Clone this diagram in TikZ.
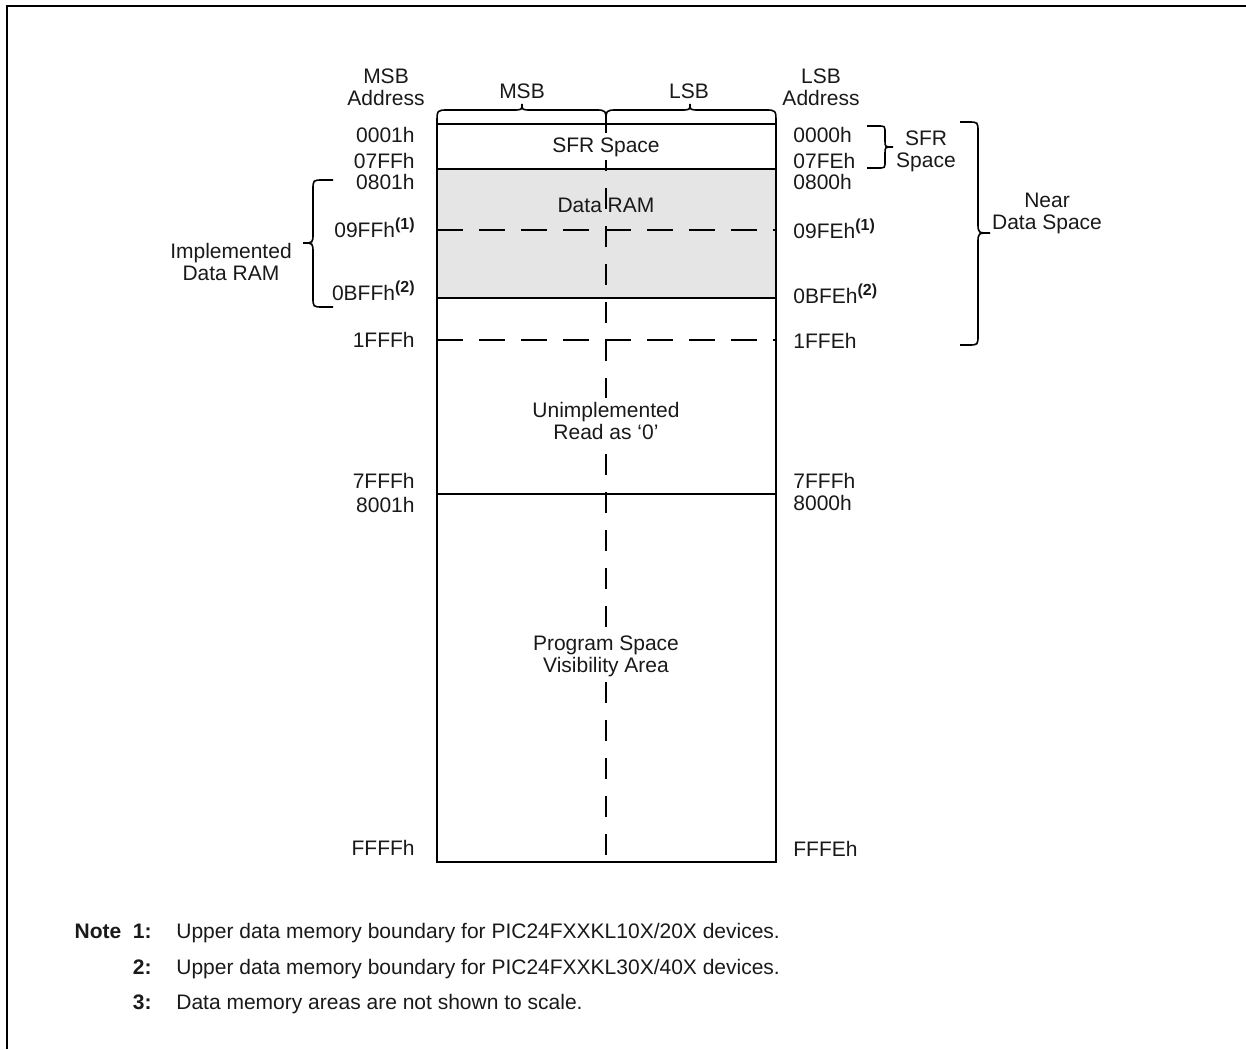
\documentclass[tikz,border=0pt]{standalone}
\usepackage{fontspec}
\setmainfont{Liberation Sans}
\newcommand\supmark[1]{\raisebox{4pt}{\fontsize{8}{8}\selectfont\bfseries(#1)}}
\begin{document}
\begin{tikzpicture}[x=0.5pt,y=-0.5pt,
  every node/.style={font=\fontsize{10.5}{11}\selectfont, inner sep=0pt, text=black!90},
  boxline/.style={line width=1pt},
  hdash/.style={line width=1pt, dash pattern=on 13pt off 8pt},
  vdash/.style={line width=1pt, dash pattern=on 10.5pt off 8.5pt, dash phase=6pt},
  brc/.style={line width=0.8pt},
  lbl/.style={anchor=base east},
  rlbl/.style={anchor=base west},
  blk/.style={align=center},
  cover/.style={align=center, fill=white, inner sep=2pt},
  notenum/.style={anchor=base east, font=\fontsize{10.5}{11}\selectfont\bfseries},
  notetext/.style={anchor=base west},
]
\useasboundingbox (0,0) rectangle (1246,1049);
% frame
\draw[line width=1.1pt] (7,1049) -- (7,6) -- (1246,6);

% memory map
\fill[gray!20] (437,169) rectangle (776,298);
\draw[hdash] (437,230) -- (776,230);
\draw[hdash] (437,340) -- (776,340);
\draw[vdash] (606,124) -- (606,862);
\draw[boxline] (437,124) rectangle (776,862);
\draw[boxline] (437,169) -- (776,169);
\draw[boxline] (437,298) -- (776,298);
\draw[boxline] (437,494) -- (776,494);

% top braces
\draw[brc] (437,123) .. controls (437,110) .. (448,110) -- (512,110) .. controls (522,110) .. (522,104) .. controls (522,110) .. (532,110) -- (595,110) .. controls (606,110) .. (606,123);
\draw[brc] (606,123) .. controls (606,110) .. (617,110) -- (680,110) .. controls (690,110) .. (690,104) .. controls (690,110) .. (700,110) -- (765,110) .. controls (776,110) .. (776,123);
% SFR brace
\draw[brc] (867,126) -- (878,126) .. controls (885,126) .. (885,133) -- (885,141) .. controls (885,147) .. (893,147) .. controls (885,147) .. (885,153) -- (885,161) .. controls (885,168) .. (878,168) -- (867,168);
% Near data space brace
\draw[brc] (960,122) -- (968,122) .. controls (978,122) .. (978,132) -- (978,223) .. controls (978,233) .. (990,233) .. controls (978,233) .. (978,243) -- (978,335) .. controls (978,345) .. (968,345) -- (960,345);
% Implemented data RAM brace
\draw[brc] (333,180) -- (323,180) .. controls (313,180) .. (313,190) -- (313,233) .. controls (313,243) .. (303,243) .. controls (313,243) .. (313,253) -- (313,297) .. controls (313,307) .. (323,307) -- (333,307);

% headings
\node[blk] (msbaddr) at (386,87) {MSB\\Address};
\node[blk] (lsbaddr) at (821,87) {LSB\\Address};
\node[anchor=base] (msb) at (522,98) {MSB};
\node[anchor=base] (lsb) at (689,98) {LSB};

% inner texts
\node[anchor=base, fill=white, inner sep=2pt] (sfr) at (606,152) {SFR Space};
\node[anchor=base] (dram) at (606,212) {Data RAM};
\node[cover] (unimp) at (606,421) {Unimplemented\\Read as ‘0’};
\node[cover] (psv) at (606,656) {Program Space\\Visibility Area};

% left addresses
\node[lbl] (l1) at (415,142) {0001h};
\node[lbl] (l2) at (415,168) {07FFh};
\node[lbl] (l3) at (415,189) {0801h};
\node[lbl] (l4) at (415,237) {09FFh\supmark{1}};
\node[lbl] (l5) at (415,300) {0BFFh\supmark{2}};
\node[lbl] (l6) at (415,347) {1FFFh};
\node[lbl] (l7) at (415,488) {7FFFh};
\node[lbl] (l8) at (415,512) {8001h};
\node[lbl] (l9) at (415,855) {FFFFh};

% right addresses
\node[rlbl] (r1) at (793,142) {0000h};
\node[rlbl] (r2) at (793,168) {07FEh};
\node[rlbl] (r3) at (793,189) {0800h};
\node[rlbl] (r4) at (793,238) {09FEh\supmark{1}};
\node[rlbl] (r5) at (793,303) {0BFEh\supmark{2}};
\node[rlbl] (r6) at (793,348) {1FFEh};
\node[rlbl] (r7) at (793,488) {7FFFh};
\node[rlbl] (r8) at (793,510) {8000h};
\node[rlbl] (r9) at (793,856) {FFFEh};

% brace labels
\node[blk] (sfrsp) at (926,151) {SFR\\Space};
\node[blk] (near) at (1047,213) {Near\\Data Space};
\node[blk] (impl) at (231,262) {Implemented\\Data RAM};

% notes
\node[notenum] (n1) at (152,938) {Note\ \ 1:};
\node[notetext] (t1) at (176,938) {Upper data memory boundary for PIC24FXXKL10X/20X devices.};
\node[notenum] (n2) at (152,974) {2:};
\node[notetext] (t2) at (176,974) {Upper data memory boundary for PIC24FXXKL30X/40X devices.};
\node[notenum] (n3) at (152,1009) {3:};
\node[notetext] (t3) at (176,1009) {Data memory areas are not shown to scale.};
\end{tikzpicture}
\end{document}
